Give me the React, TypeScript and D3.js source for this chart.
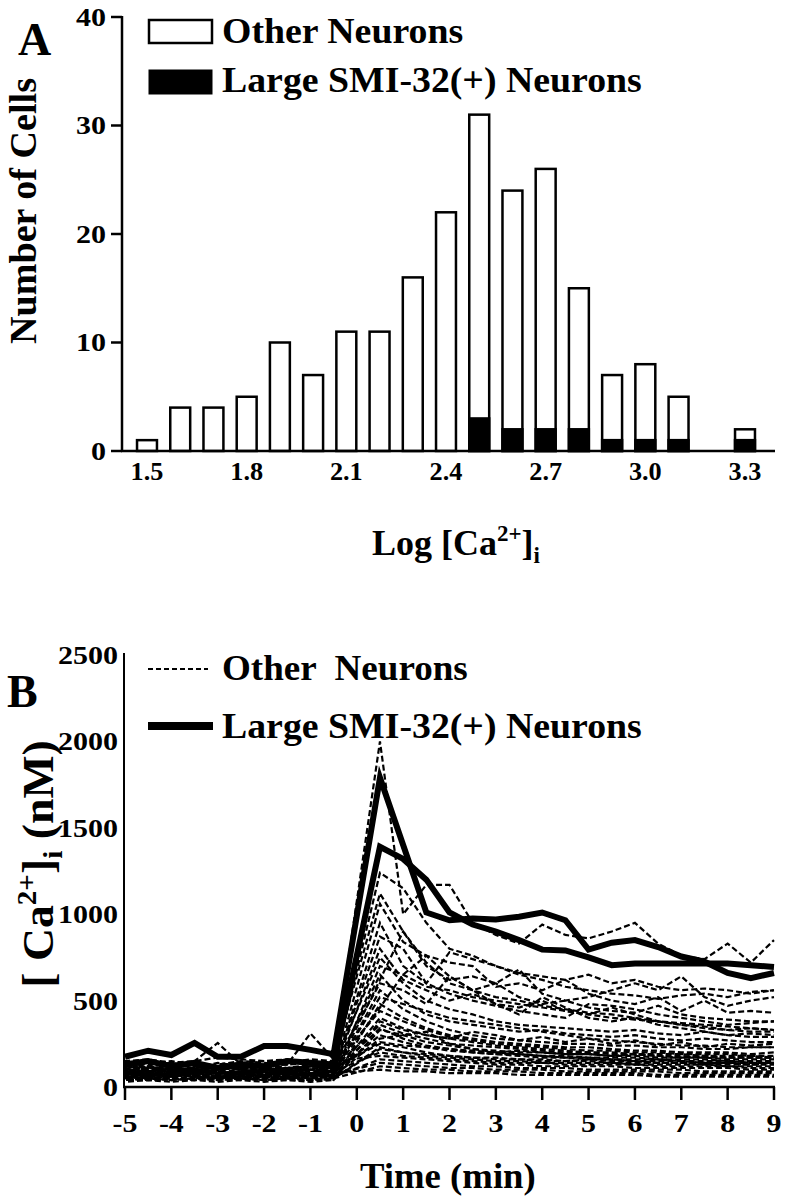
import React from 'react';
import * as d3 from 'd3';

// ---------- Panel A data ----------
const binCenters = [1.5, 1.6, 1.7, 1.8, 1.9, 2.0, 2.1, 2.2, 2.3, 2.4, 2.5, 2.6, 2.7, 2.8, 2.9, 3.0, 3.1, 3.2, 3.3];
const totalCounts = [1, 4, 4, 5, 10, 7, 11, 11, 16, 22, 31, 24, 26, 15, 7, 8, 5, 0, 2];
const largeSmiCounts = [0, 0, 0, 0, 0, 0, 0, 0, 0, 0, 3, 2, 2, 2, 1, 1, 1, 0, 1];
const xTicksA = [1.5, 1.8, 2.1, 2.4, 2.7, 3.0, 3.3];
const yTicksA = [0, 10, 20, 30, 40];

// ---------- Panel B data ----------
const times = [-5, -4.5, -4, -3.5, -3, -2.5, -2, -1.5, -1, -0.5, 0.5, 1, 1.5, 2, 2.5, 3, 3.5, 4, 4.5, 5, 5.5, 6, 6.5, 7, 7.5, 8, 8.5, 9];
const xTicksB = [-5, -4, -3, -2, -1, 0, 1, 2, 3, 4, 5, 6, 7, 8, 9];
const yTicksB = [0, 500, 1000, 1500, 2000, 2500];

const largeSmiTraces = [
  [175, 210, 185, 255, 175, 175, 237, 237, 215, 190, 1790, 1400, 1010, 965, 975, 970, 985, 1010, 965, 795, 835, 850, 810, 755, 725, 660, 630, 660],
  [130, 150, 120, 140, 110, 130, 120, 150, 140, 130, 1390, 1320, 1200, 1010, 940, 900, 850, 795, 790, 750, 705, 715, 715, 715, 715, 715, 705, 695],
];

const otherTraces = [
  [120, 100, 130, 110, 140, 120, 130, 110, 120, 150, 2000, 1000, 1170, 1170, 950, 880, 830, 940, 880, 860, 900, 950, 830, 760, 740, 830, 720, 850],
  [90, 110, 100, 150, 255, 130, 110, 100, 120, 110, 1240, 1150, 950, 800, 760, 700, 660, 640, 620, 650, 600, 620, 580, 560, 570, 560, 540, 560],
  [150, 130, 140, 120, 130, 150, 140, 130, 310, 160, 1120, 900, 700, 620, 640, 600, 680, 540, 500, 520, 560, 600, 560, 640, 520, 470, 500, 520],
  [80, 90, 70, 90, 80, 70, 90, 80, 100, 90, 1060, 840, 760, 720, 700, 580, 600, 560, 620, 540, 500, 480, 520, 440, 500, 430, 440, 430],
  [60, 70, 60, 80, 70, 60, 70, 80, 70, 80, 950, 700, 600, 780, 740, 700, 650, 620, 580, 560, 540, 530, 510, 530, 540, 520, 550, 560],
  [110, 90, 100, 90, 100, 110, 100, 90, 110, 100, 870, 800, 600, 540, 500, 470, 440, 420, 400, 480, 470, 450, 420, 400, 380, 360, 370, 380],
  [70, 80, 90, 80, 90, 80, 70, 90, 80, 90, 800, 620, 560, 500, 540, 480, 460, 500, 440, 420, 400, 390, 380, 360, 350, 330, 320, 320],
  [140, 120, 130, 140, 120, 110, 120, 130, 140, 130, 750, 600, 500, 450, 420, 380, 360, 350, 340, 330, 320, 330, 310, 300, 320, 300, 310, 300],
  [50, 60, 50, 60, 50, 60, 50, 60, 70, 60, 700, 650, 580, 560, 520, 500, 480, 460, 440, 420, 460, 420, 380, 360, 340, 330, 340, 330],
  [100, 110, 90, 100, 110, 100, 90, 100, 90, 100, 650, 500, 420, 380, 360, 340, 320, 330, 310, 300, 290, 300, 280, 270, 280, 270, 260, 260],
  [130, 110, 120, 100, 110, 130, 120, 110, 130, 120, 600, 560, 480, 640, 560, 480, 420, 520, 460, 400, 380, 400, 360, 340, 320, 300, 290, 290],
  [60, 50, 60, 70, 60, 50, 60, 50, 60, 70, 560, 450, 380, 330, 300, 280, 270, 260, 250, 250, 240, 240, 230, 230, 220, 220, 230, 230],
  [90, 80, 90, 100, 90, 80, 100, 90, 80, 90, 520, 480, 440, 400, 380, 360, 340, 320, 300, 280, 270, 260, 250, 240, 240, 230, 230, 230],
  [40, 50, 40, 50, 40, 50, 40, 50, 50, 40, 480, 400, 340, 300, 280, 260, 250, 240, 230, 230, 220, 210, 210, 200, 200, 200, 190, 200],
  [120, 140, 150, 130, 120, 140, 150, 160, 140, 130, 440, 380, 330, 290, 270, 250, 240, 230, 220, 210, 210, 200, 200, 190, 190, 190, 180, 180],
  [70, 60, 80, 70, 60, 70, 80, 60, 70, 70, 400, 340, 300, 280, 260, 240, 230, 220, 210, 200, 200, 190, 190, 190, 180, 180, 180, 170],
  [100, 90, 110, 100, 120, 100, 90, 110, 100, 110, 360, 310, 280, 250, 240, 230, 220, 210, 200, 200, 190, 190, 180, 180, 170, 170, 170, 170],
  [50, 40, 50, 40, 60, 50, 40, 50, 40, 50, 330, 300, 260, 240, 220, 210, 200, 200, 190, 190, 180, 180, 170, 170, 170, 160, 160, 160],
  [80, 100, 90, 100, 80, 90, 100, 90, 100, 80, 300, 260, 230, 210, 200, 190, 190, 180, 180, 170, 170, 170, 160, 160, 160, 150, 150, 150],
  [60, 80, 70, 60, 80, 70, 60, 80, 70, 60, 280, 300, 320, 250, 220, 200, 190, 180, 170, 170, 160, 160, 160, 150, 150, 150, 140, 140],
  [110, 120, 100, 110, 100, 120, 110, 100, 120, 110, 250, 230, 200, 180, 170, 160, 160, 150, 150, 150, 140, 140, 140, 140, 130, 130, 130, 130],
  [40, 40, 50, 40, 50, 40, 50, 40, 40, 50, 230, 200, 180, 170, 160, 150, 150, 140, 140, 140, 140, 130, 130, 130, 130, 120, 120, 120],
  [90, 70, 80, 90, 70, 80, 90, 70, 80, 90, 200, 180, 170, 160, 150, 140, 140, 140, 130, 130, 130, 130, 120, 120, 120, 120, 110, 110],
  [150, 160, 140, 150, 170, 160, 150, 140, 160, 150, 180, 170, 160, 150, 140, 130, 130, 120, 120, 120, 120, 110, 110, 110, 110, 110, 100, 100],
  [50, 60, 70, 60, 50, 60, 70, 60, 50, 60, 160, 150, 140, 130, 120, 120, 110, 110, 110, 100, 100, 100, 100, 100, 90, 90, 90, 90],
  [80, 70, 60, 70, 80, 70, 60, 70, 80, 70, 140, 130, 120, 110, 110, 100, 100, 100, 90, 90, 90, 90, 90, 80, 80, 80, 80, 80],
  [40, 50, 60, 50, 40, 50, 60, 50, 40, 50, 120, 110, 100, 100, 90, 90, 90, 80, 80, 80, 80, 80, 70, 70, 70, 70, 70, 70],
  [70, 80, 70, 80, 70, 80, 70, 80, 70, 80, 100, 90, 90, 80, 80, 80, 70, 70, 70, 70, 70, 70, 60, 60, 60, 60, 60, 60],
  [60, 70, 80, 70, 60, 70, 80, 70, 60, 70, 620, 900, 720, 600, 560, 520, 500, 470, 450, 430, 420, 400, 380, 370, 360, 350, 340, 330],
  [100, 90, 80, 90, 100, 90, 80, 90, 100, 90, 460, 650, 760, 640, 560, 600, 520, 480, 500, 460, 440, 430, 470, 420, 400, 390, 380, 380],
  [30, 40, 30, 40, 30, 40, 30, 40, 30, 40, 380, 330, 300, 280, 320, 300, 270, 290, 260, 280, 250, 270, 240, 260, 230, 250, 240, 250],
  [120, 110, 100, 110, 120, 110, 100, 110, 120, 110, 260, 240, 230, 220, 210, 200, 210, 200, 190, 190, 180, 190, 180, 170, 180, 170, 170, 170],
  [60, 50, 40, 50, 60, 50, 40, 50, 60, 50, 220, 200, 190, 180, 170, 170, 160, 160, 150, 160, 150, 150, 140, 140, 140, 140, 130, 140],
  [80, 90, 100, 90, 80, 90, 100, 90, 80, 90, 340, 280, 240, 220, 200, 190, 180, 170, 170, 160, 160, 150, 150, 150, 140, 140, 140, 140],
];

const FONT = '"Liberation Serif", "Times New Roman", Times, serif';

type TProps = {
  x: number; y: number; size: number; anchor?: string; sx?: number; rotate?: number; children: React.ReactNode;
};
const T = ({ x, y, size, anchor = 'start', sx = 1, rotate = 0, children }: TProps) => (
  <text
    transform={`translate(${x},${y}) rotate(${rotate}) scale(${sx},1)`}
    fontSize={size}
    fontFamily={FONT}
    fontWeight="bold"
    textAnchor={anchor}
    fill="#000"
    style={{ whiteSpace: 'pre' }}
  >
    {children}
  </text>
);

export default function App() {
  // Panel A scales
  const xA = d3.scaleLinear().domain([1.5, 3.3]).range([147, 745]);
  const yA = d3.scaleLinear().domain([0, 40]).range([451, 17]);
  const step = xA(1.6) - xA(1.5);
  const barW = step * 0.6;

  // Panel B scales
  const xB = d3.scaleLinear().domain([-5, 9]).range([125, 774]);
  const yB = d3.scaleLinear().domain([0, 2500]).range([1087, 655]);
  const line = d3
    .line<number>()
    .x((_, i) => xB(times[i]))
    .y((v) => yB(v));

  return (
    <svg
      width={788}
      height={1200}
      style={{ position: 'absolute', left: 0, top: 0, background: '#fff' }}
    >
      <rect x={0} y={0} width={788} height={1200} fill="#fff" />

      {/* ================= Panel A ================= */}
      <T x={18} y={55} size={46}>A</T>

      {binCenters.map((c, i) =>
        totalCounts[i] > 0 ? (
          <g key={`b${i}`}>
            <rect
              x={xA(c) - barW / 2}
              y={yA(totalCounts[i])}
              width={barW}
              height={yA(0) - yA(totalCounts[i])}
              fill="#fff"
              stroke="#000"
              strokeWidth={2.5}
            />
            {largeSmiCounts[i] > 0 && (
              <rect
                x={xA(c) - barW / 2}
                y={yA(largeSmiCounts[i])}
                width={barW}
                height={yA(0) - yA(largeSmiCounts[i])}
                fill="#000"
                stroke="#000"
                strokeWidth={2.5}
              />
            )}
          </g>
        ) : null
      )}

      <line x1={122} x2={122} y1={yA(40) - 1} y2={yA(0) + 1} stroke="#000" strokeWidth={2.5} />
      <line x1={121} x2={775} y1={yA(0)} y2={yA(0)} stroke="#000" strokeWidth={2.5} />
      {yTicksA.map((v) => (
        <g key={`ya${v}`}>
          <line x1={111} x2={122} y1={yA(v)} y2={yA(v)} stroke="#000" strokeWidth={2.5} />
          <T x={106} y={yA(v) + 8.5} size={25} sx={1.2} anchor="end">{v}</T>
        </g>
      ))}
      {xTicksA.map((v) => (
        <T key={`xa${v}`} x={xA(v)} y={480} size={25} sx={1.05} anchor="middle">{v.toFixed(1)}</T>
      ))}

      <T x={36} y={211} size={37} sx={1.03} rotate={-90} anchor="middle">Number of Cells</T>
      <text x={372} y={555} fontSize={36} fontFamily={FONT} fontWeight="bold" fill="#000">
        Log [Ca<tspan dy={-14} fontSize={23}>2+</tspan>
        <tspan dy={14}>]</tspan>
        <tspan dy={8} fontSize={23}>i</tspan>
      </text>

      <rect x={149} y={20} width={63} height={23} fill="#fff" stroke="#000" strokeWidth={2.5} />
      <rect x={149} y={70} width={63} height={24} fill="#000" stroke="#000" strokeWidth={1} />
      <T x={222} y={43} size={36} sx={1.05}>Other Neurons</T>
      <T x={222} y={92} size={36} sx={1.05}>Large SMI-32(+) Neurons</T>

      {/* ================= Panel B ================= */}
      <T x={7} y={707} size={46}>B</T>

      {otherTraces.map((tr, i) => (
        <path
          key={`o${i}`}
          d={line(tr) || ''}
          fill="none"
          stroke="#000"
          strokeWidth={2.2}
          strokeDasharray="6,3"
          strokeDashoffset={(i * 2) % 9}
        />
      ))}
      {largeSmiTraces.map((tr, i) => (
        <path
          key={`s${i}`}
          d={line(tr) || ''}
          fill="none"
          stroke="#000"
          strokeWidth={6}
          strokeLinejoin="miter"
          strokeMiterlimit={10}
        />
      ))}

      <line x1={124} x2={124} y1={653} y2={yB(0) + 1} stroke="#000" strokeWidth={2} />
      <line x1={123} x2={775} y1={yB(0)} y2={yB(0)} stroke="#000" strokeWidth={2.5} />
      {xTicksB.map((v) => (
        <g key={`xb${v}`}>
          <line x1={xB(v)} x2={xB(v)} y1={yB(0)} y2={yB(0) + 13} stroke="#000" strokeWidth={2.5} />
          <T x={xB(v)} y={1132} size={26} sx={1.15} anchor="middle">{v}</T>
        </g>
      ))}
      {yTicksB.map((v) => (
        <T key={`yb${v}`} x={118} y={yB(v) + 9} size={25} sx={1.2} anchor="end">{v}</T>
      ))}

      <text
        transform={`translate(53,864) rotate(-90) scale(1.04,1)`}
        fontSize={44}
        fontFamily={FONT}
        fontWeight="bold"
        fill="#000"
        textAnchor="middle"
        style={{ whiteSpace: 'pre' }}
      >
        [ Ca<tspan dy={-17} fontSize={28}>2+</tspan>
        <tspan dy={17}>]</tspan>
        <tspan dy={9} fontSize={28}>i</tspan>
        <tspan dy={-9}> (nM)</tspan>
      </text>
      <T x={360} y={1188} size={36} sx={1.02}>Time (min)</T>

      <line x1={148} x2={208} y1={669} y2={669} stroke="#000" strokeWidth={1.8} strokeDasharray="5,3" />
      <line x1={148} x2={213} y1={726} y2={726} stroke="#000" strokeWidth={8} />
      <T x={222} y={680} size={36} sx={1.03}>{'Other  Neurons'}</T>
      <T x={222} y={738} size={36} sx={1.05}>Large SMI-32(+) Neurons</T>
    </svg>
  );
}
